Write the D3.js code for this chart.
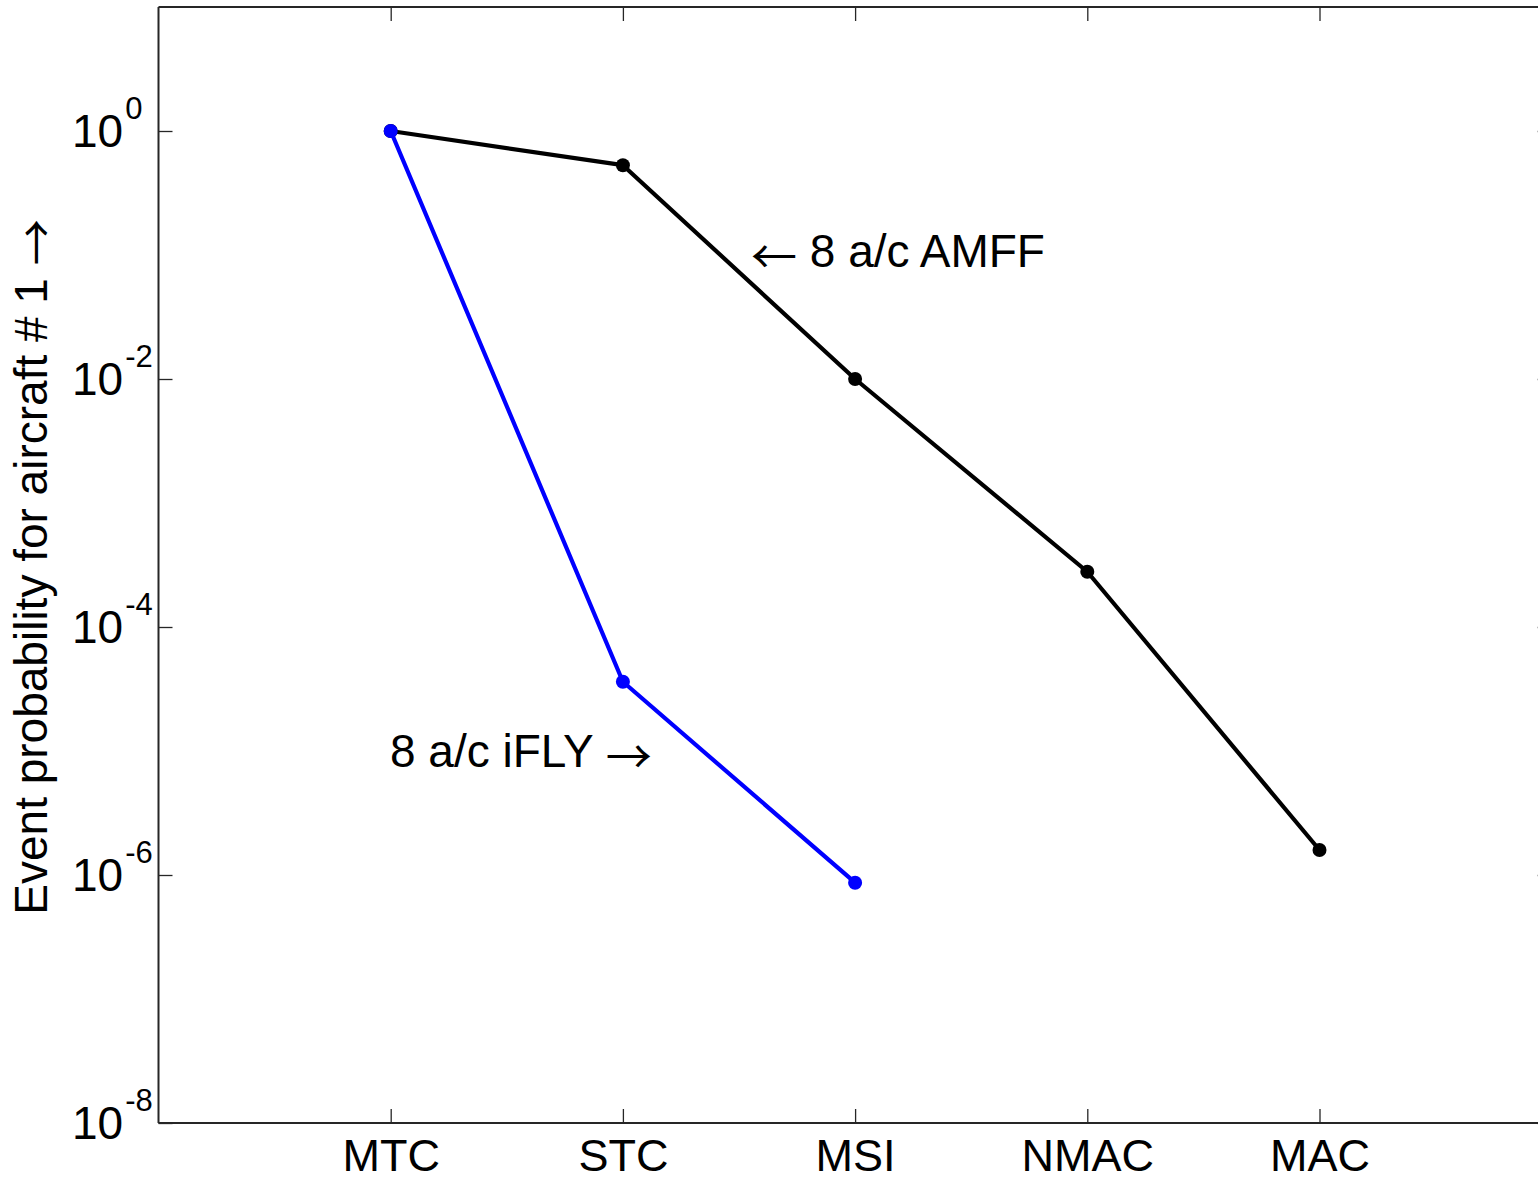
<!DOCTYPE html>
<html>
<head>
<meta charset="utf-8">
<script src="https://cdn.jsdelivr.net/npm/d3@7"></script>
<style>
  html, body { margin: 0; padding: 0; background: #fff; }
  svg { display: block; font-family: "Liberation Sans", Arial, Helvetica, sans-serif; }
  .arrow { font-family: "Noto Sans CJK SC", "DejaVu Sans", sans-serif; }
</style>
</head>
<body>
<svg id="chart" width="1538" height="1181"></svg>
<script>
// Event categories along the x axis
const categories = ["MTC", "STC", "MSI", "NMAC", "MAC"];

// Event probabilities for aircraft #1
const amffCategories = ["MTC", "STC", "MSI", "NMAC", "MAC"];
const amffValues = [1.0, 0.53, 0.01, 2.79e-4, 1.59e-6];

const iflyCategories = ["MTC", "STC", "MSI"];
const iflyValues = [1.0, 3.62e-5, 8.67e-7];

// Decade ticks on the log axis (base, exponent)
const yTickValues = [1e0, 1e-2, 1e-4, 1e-6, 1e-8];
const yTickExponents = ["0", "-2", "-4", "-6", "-8"];

(function () {
  const svg = d3.select("#chart");

  const plotLeft = 158.5, plotRight = 1551.7, plotTop = 7, plotBottom = 1123;
  const tickLen = 14;

  const x = d3.scalePoint().domain(categories).range([plotLeft, plotRight]).padding(1);
  const y = d3.scaleLog().domain([1e-8, 1e1]).range([plotBottom, plotTop]);

  const axisColor = "#262626";

  // Bottom axis (ticks point inward)
  const gx = svg.append("g").attr("transform", `translate(0,${plotBottom})`)
    .call(d3.axisBottom(x).tickSize(-tickLen).tickSizeOuter(0).tickPadding(16));
  gx.select(".domain").attr("stroke", axisColor).attr("stroke-width", 2)
    .attr("d", `M${plotLeft},0H${plotRight}`);
  gx.selectAll(".tick line").attr("stroke", axisColor).attr("stroke-width", 1.3);
  gx.selectAll(".tick text")
    .attr("fill", "#000")
    .attr("font-size", 45)
    .attr("dy", null)
    .attr("y", 48);

  // Top axis (box edge)
  const gt = svg.append("g").attr("transform", `translate(0,${plotTop})`)
    .call(d3.axisTop(x).tickSize(-tickLen).tickSizeOuter(0).tickFormat(""));
  gt.select(".domain").attr("stroke", axisColor).attr("stroke-width", 2)
    .attr("d", `M${plotLeft},0H${plotRight}`);
  gt.selectAll(".tick line").attr("stroke", axisColor).attr("stroke-width", 1.3);

  // Left axis
  const gy = svg.append("g").attr("transform", `translate(${plotLeft},0)`)
    .call(d3.axisLeft(y).tickValues(yTickValues).tickSize(-tickLen).tickSizeOuter(0).tickFormat(""));
  gy.select(".domain").attr("stroke", axisColor).attr("stroke-width", 2)
    .attr("d", `M0,${plotTop}V${plotBottom}`);
  gy.selectAll(".tick line").attr("stroke", axisColor).attr("stroke-width", 1.3);

  // Right axis (box edge)
  const gr = svg.append("g").attr("transform", `translate(${plotRight},0)`)
    .call(d3.axisRight(y).tickValues(yTickValues).tickSize(-tickLen).tickSizeOuter(0).tickFormat(""));
  gr.select(".domain").attr("stroke", axisColor).attr("stroke-width", 2)
    .attr("d", `M0,${plotTop}V${plotBottom}`);
  gr.selectAll(".tick line").attr("stroke", axisColor).attr("stroke-width", 1.3);

  // Power-of-ten tick labels
  const yLabels = svg.append("g");
  yTickValues.forEach((v, i) => {
    const t = yLabels.append("text")
      .attr("x", 72)
      .attr("y", y(v) + 16)
      .attr("fill", "#000")
      .attr("font-size", 46);
    t.append("tspan").text("10");
    t.append("tspan")
      .attr("font-size", 31)
      .attr("dy", -28)
      .attr("dx", 2)
      .text(yTickExponents[i]);
  });

  // Y axis title
  const yTitle = svg.append("text")
    .attr("transform", `translate(47,${(plotTop + plotBottom) / 2 + 2}) rotate(-90)`)
    .attr("text-anchor", "middle")
    .attr("font-size", 46)
    .attr("fill", "#000");
  yTitle.append("tspan").text("Event probability for aircraft # 1 ");
  yTitle.append("tspan").attr("class", "arrow").attr("dy", 6).text("\u2192");

  // Series
  const line = d3.line().x(d => x(d.c)).y(d => y(d.v));

  function drawSeries(cats, vals, color) {
    const pts = cats.map((c, i) => ({ c, v: vals[i] }));
    svg.append("path")
      .datum(pts)
      .attr("d", line)
      .attr("fill", "none")
      .attr("stroke", color)
      .attr("stroke-width", 4.2)
      .attr("stroke-linejoin", "round");
    svg.append("g").selectAll("circle")
      .data(pts)
      .join("circle")
      .attr("cx", d => x(d.c))
      .attr("cy", d => y(d.v))
      .attr("r", 7)
      .attr("fill", color);
  }

  drawSeries(amffCategories, amffValues, "#000000");
  drawSeries(iflyCategories, iflyValues, "#0000ff");

  // Series annotations
  const amff = svg.append("text")
    .attr("x", 751).attr("y", 267)
    .attr("font-size", 46).attr("fill", "#000");
  amff.append("tspan").attr("class", "arrow").attr("dy", 6).text("\u2190");
  amff.append("tspan").attr("dy", -6).text(" 8 a/c AMFF");

  const ifly = svg.append("text")
    .attr("x", 390).attr("y", 767)
    .attr("font-size", 46).attr("fill", "#000");
  ifly.append("tspan").text("8 a/c iFLY ");
  ifly.append("tspan").attr("class", "arrow").attr("dy", 6).text("\u2192");
})();
</script>
</body>
</html>
